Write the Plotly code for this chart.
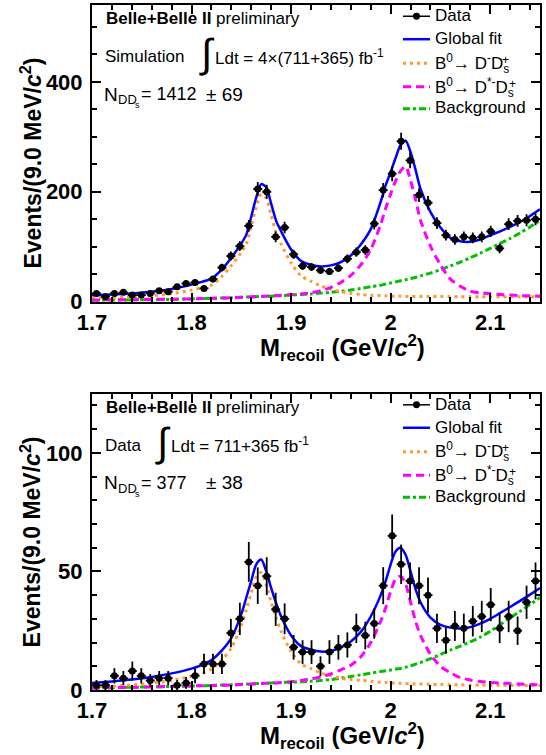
import plotly.graph_objects as go

# ---------------- data ----------------
BIN_WIDTH = 0.009
X_MIN, X_MAX = 1.7, 2.15
N_BINS = 50
bin_centers = [round(X_MIN + BIN_WIDTH * (i + 0.5), 5) for i in range(N_BINS)]

# Simulation (top panel)
sim_counts = [15, 9, 15, 17, 12, 12, 15, 20, 18, 27,
              33, 35, 24, 41, 62, 83, 101, 138, 205, 200,
              118, 135, 86, 65, 63, 57, 55, 61, 78, 90,
              94, 142, 203, 233, 292, 257, 194, 180, 143, 121,
              113, 118, 116, 118, 128, 97, 141, 147, 148, 150]
sim_errors = [3.5, 2.7, 3.5, 3.7, 3.1, 3.1, 3.5, 4.0, 3.8, 4.7,
              5.2, 5.3, 4.4, 5.8, 7.1, 8.2, 9.0, 10.6, 12.9, 12.7,
              9.8, 10.5, 8.3, 7.3, 7.1, 6.8, 6.7, 7.0, 7.9, 8.5,
              8.7, 10.7, 12.8, 13.7, 15.4, 14.4, 12.5, 12.1, 10.8, 9.9,
              9.6, 9.8, 9.7, 9.8, 10.2, 8.9, 10.7, 10.9, 10.9, 11.0]

# Data (bottom panel)
data_counts = [2, 2, 6, 5, 8, 6, 4, 5, 5, 2,
               3, 6, 11, 11, 11, 24, 30, 54, 44, 48,
               34, 30, 18, 16, 16, 10, 16, 18, 19, 26,
               23, 28, 44, 65, 53, 46, 44, 40, 26, 21,
               27, 26, 29, 31, 36, 26, 31, 25, 37, 46]
data_errors = [2.2, 2.2, 3.2, 3.0, 4.0, 3.2, 2.7, 3.0, 3.0, 2.2,
               2.5, 3.2, 4.3, 4.3, 4.3, 6.0, 6.8, 8.4, 7.7, 8.0,
               7.0, 6.5, 5.2, 5.0, 5.0, 4.2, 5.0, 5.2, 5.3, 6.2,
               5.8, 6.4, 7.8, 9.0, 8.3, 7.8, 7.8, 7.4, 6.2, 5.6,
               6.3, 6.2, 6.4, 6.6, 7.0, 6.2, 6.6, 6.0, 7.0, 7.8]

# Fit curves, sampled along M_recoil
curve_x = [1.70, 1.72, 1.74, 1.76, 1.78, 1.80, 1.81, 1.82, 1.83, 1.84, 1.85,
           1.855, 1.86, 1.865, 1.87, 1.875, 1.88, 1.885, 1.89, 1.90,
           1.91, 1.92, 1.93, 1.94, 1.95, 1.96, 1.97, 1.98, 1.99,
           1.995, 2.00, 2.005, 2.01, 2.015, 2.02, 2.025, 2.03,
           2.04, 2.05, 2.06, 2.07, 2.08, 2.09, 2.10, 2.11, 2.12, 2.13, 2.14, 2.15]

sim_fit_total = [12, 13, 15, 18, 23, 31, 36, 42, 58, 80, 106,
                 122, 155, 190, 214, 208, 178, 147, 128, 95,
                 74, 67, 64, 66, 72, 84, 104, 132, 182,
                 212, 236, 262, 285, 293, 272, 240, 205,
                 163, 135, 116, 110, 109, 113, 121, 128, 136, 145, 156, 168]
sim_fit_dds = [7, 7, 8.4, 10.5, 14.5, 21, 25, 30, 45, 66, 90,
               105, 138, 172, 195, 188, 157, 125, 105, 70,
               47, 37, 28.5, 23, 18, 15, 13, 11.5, 11,
               10.5, 10, 10, 10, 9.5, 9.5, 9.5, 9.5,
               9.5, 9.5, 9, 9, 9, 9, 9, 9, 9, 9, 9, 9]
sim_fit_dstds = [3, 3.3, 3.6, 4, 4.5, 5, 5.5, 6, 6.5, 7, 8,
                 8.3, 8.7, 9, 9.5, 10, 10.5, 11, 11.5, 12.5,
                 14, 16, 20, 26, 35, 48, 67, 95, 141,
                 170, 196, 220, 238, 246, 220, 186, 148,
                 101, 67, 41, 28, 19, 16, 14.5, 13, 12, 11, 10.5, 10]
sim_fit_bkg = [2, 2.5, 3, 3.5, 4, 5, 5.5, 6, 6.5, 7, 8,
               8.3, 8.6, 9, 9.3, 9.6, 10, 10.5, 11, 12,
               13, 14, 15.5, 17, 19, 21, 24, 27, 30,
               32, 34, 36, 38, 40, 42, 44, 47,
               52, 58, 65, 72, 80, 88, 97, 106, 115, 125, 136, 148]

data_fit_total = [2.9, 3.6, 4.4, 5.5, 7, 9, 10.5, 12.6, 16.5, 22, 32,
                  39, 46, 53, 55, 50, 43, 36.5, 31, 23,
                  18.5, 17, 16.2, 16.5, 18, 20.5, 24.5, 31, 40,
                  46, 53, 58.5, 60, 57, 50, 42.5, 37,
                  30.5, 27.5, 26.3, 25.9, 26.5, 28, 30, 32.5, 35, 37.6, 40.2, 43]
data_fit_dds = [1.3, 1.6, 2.1, 2.9, 4.0, 5.8, 6.9, 8.8, 12.4, 17.7, 27.3,
                34, 41, 47.7, 49.5, 44.3, 37, 30.4, 24.6, 16.2,
                11, 9, 7.2, 6, 5, 4.4, 4.1, 3.7, 3.3,
                3.2, 3.0, 2.9, 2.8, 2.7, 2.6, 2.5, 2.5,
                2.4, 2.3, 2.2, 2.2, 2.1, 2.1, 2.0, 2.0, 2.0, 1.9, 1.9, 1.9]
data_fit_dstds = [0.8, 1, 1.1, 1.3, 1.5, 1.7, 1.8, 1.9, 2.0, 2.1, 2.3,
                  2.4, 2.5, 2.6, 2.7, 2.8, 2.9, 3.0, 3.2, 3.5,
                  4.0, 4.6, 5.5, 6.8, 8.5, 10.4, 14, 20, 29,
                  34.7, 41.6, 46.8, 48, 44.7, 37, 29, 23,
                  15, 10, 7.3, 5.2, 4.2, 3.6, 3.2, 2.9, 2.7, 2.5, 2.3, 2.2]
data_fit_bkg = [0.8, 1.0, 1.2, 1.35, 1.5, 1.7, 1.8, 1.9, 2.1, 2.2, 2.4,
                2.5, 2.6, 2.7, 2.8, 2.9, 3.0, 3.1, 3.2, 3.3,
                3.5, 3.7, 4.0, 4.4, 5.0, 5.7, 6.4, 7.1, 7.8,
                8.1, 8.4, 8.8, 9.1, 9.6, 10.2, 10.9, 11.6,
                13.2, 15, 16.8, 18.5, 20.3, 22.3, 24.8, 27.6, 30.4, 33.2, 36, 39]

x_tick_vals = [1.7, 1.8, 1.9, 2.0, 2.1]
x_tick_text = ["1.7", "1.8", "1.9", "2", "2.1"]
sim_y_range = [0, 540]
sim_y_ticks = [0, 200, 400]
data_y_range = [0, 125]
data_y_ticks = [0, 50, 100]

legend_labels = ["Data", "Global fit",
                 "B<sup>0</sup>→ D<sup>-</sup>D<sub>s</sub>",
                 "B<sup>0</sup>→ D<sup>*-</sup>D<sub>s</sub>",
                 "Background"]

# ---------------- style ----------------
FONT = "Liberation Sans, Arial, Helvetica, sans-serif"
C_FIT = "#0000FF"
C_DDS = "#FF9933"
C_DSTDS = "#FF00FF"
C_BKG = "#00C000"
DASH_DDS = "3px,4px"
DASH_DSTDS = "8px,5px"
DASH_BKG = "7px,3px,3px,3px"

W, H = 546, 755
ML, MR, MT, MB = 92, 6, 3, 65
PW = W - ML - MR
PH = H - MT - MB


def px(x):
    return (x - ML) / PW


def py(y):
    return (MT + PH - y) / PH


TOP_FRAME = 3.0
TOP_BOTTOM = 300.5
BOT_FRAME = 392.7
BOT_BOTTOM = 690.0

fig = go.Figure()


def add_panel(xa, ya, counts, errors, tot, dds, dstds, bkg):
    common = dict(x=curve_x, xaxis=xa, yaxis=ya, mode="lines", showlegend=False,
                  hoverinfo="skip", line_shape="spline")
    fig.add_trace(go.Scatter(y=bkg, line=dict(color=C_BKG, width=3, dash=DASH_BKG, smoothing=0.8), **common))
    fig.add_trace(go.Scatter(y=dds, line=dict(color=C_DDS, width=3, dash=DASH_DDS, smoothing=0.8), **common))
    fig.add_trace(go.Scatter(y=dstds, line=dict(color=C_DSTDS, width=3, dash=DASH_DSTDS, smoothing=0.8), **common))
    fig.add_trace(go.Scatter(y=tot, line=dict(color=C_FIT, width=2.5, smoothing=0.8), **common))
    fig.add_trace(go.Scatter(
        x=bin_centers, y=counts, xaxis=xa, yaxis=ya, mode="markers", showlegend=False,
        marker=dict(color="black", size=7),
        error_y=dict(type="data", array=errors, color="black", thickness=1.8, width=0),
        error_x=dict(type="constant", value=BIN_WIDTH / 2, color="black", thickness=1.8, width=0),
    ))


add_panel("x", "y", sim_counts, sim_errors, sim_fit_total, sim_fit_dds, sim_fit_dstds, sim_fit_bkg)
add_panel("x2", "y2", data_counts, data_errors, data_fit_total, data_fit_dds, data_fit_dstds, data_fit_bkg)

axis_common = dict(showline=True, linecolor="black", linewidth=2, mirror="allticks",
                   ticks="inside", ticklen=9, tickwidth=1.5, tickcolor="black",
                   showgrid=False, zeroline=False,
                   tickfont=dict(family=FONT, size=22, color="black", weight="bold"))

top_dom = [py(TOP_BOTTOM), 1.0]
bot_dom = [0.0, py(BOT_FRAME)]

fig.update_layout(
    width=W, height=H,
    margin=dict(l=ML, r=MR, t=MT, b=MB),
    paper_bgcolor="white", plot_bgcolor="white",
    showlegend=False,
    xaxis=dict(domain=[0, 1], anchor="y", range=[X_MIN, X_MAX], tickmode="array",
               tickvals=x_tick_vals, ticktext=x_tick_text,
               minor=dict(dtick=0.02, tick0=1.7, ticks="inside", ticklen=5, tickwidth=1.5, tickcolor="black"),
               **axis_common),
    yaxis=dict(domain=top_dom, anchor="x", range=sim_y_range, tickmode="array", tickvals=sim_y_ticks,
               ticklabelstandoff=3,
               minor=dict(dtick=50, tick0=0, ticks="inside", ticklen=5, tickwidth=1.5, tickcolor="black"),
               **axis_common),
    xaxis2=dict(domain=[0, 1], anchor="y2", range=[X_MIN, X_MAX], tickmode="array",
                tickvals=x_tick_vals, ticktext=x_tick_text,
                minor=dict(dtick=0.02, tick0=1.7, ticks="inside", ticklen=5, tickwidth=1.5, tickcolor="black"),
                **axis_common),
    yaxis2=dict(domain=bot_dom, anchor="x2", range=data_y_range, tickmode="array", tickvals=data_y_ticks,
                ticklabelstandoff=3,
                minor=dict(dtick=10, tick0=0, ticks="inside", ticklen=5, tickwidth=1.5, tickcolor="black"),
                **axis_common),
)

annotations = []
shapes = []


def txt(x, y, text, size=17, xanchor="left", yanchor="middle", **kw):
    annotations.append(dict(x=px(x), y=py(y), xref="paper", yref="paper", text=text,
                            showarrow=False, xanchor=xanchor, yanchor=yanchor,
                            font=dict(family=FONT, size=size, color="black"), **kw))


def panel_text(top, label, int_x, lumi_x, lumi, n_val, n_err):
    txt(104, top + 14, "<b>Belle+Belle II</b> preliminary")
    txt(103, top + 52, label)
    txt(int_x, top + 49, "∫", size=40, xanchor="center")
    txt(lumi_x, top + 52, lumi)
    txt(102, top + 89.5, "N", size=19)
    txt(116, top + 95, "DD", size=13)
    txt(133, top + 100.5, "s", size=9)
    txt(139, top + 89.5, "= " + n_val, size=18)
    txt(204, top + 89.5, "± " + n_err, size=19)
    # legend
    rows = [10.6, 34, 58.2, 82.4, 103]
    for lab, r in zip(legend_labels, rows):
        txt(433, top + r, lab)
    # legend samples
    shapes.append(dict(type="line", xref="paper", yref="paper", x0=px(403), x1=px(430),
                       y0=py(top + 11.3), y1=py(top + 11.3), line=dict(color="black", width=1.5)))
    shapes.append(dict(type="circle", xref="paper", yref="paper", x0=px(413), x1=px(420),
                       y0=py(top + 14.8), y1=py(top + 7.8), fillcolor="black", line=dict(color="black", width=0)))
    shapes.append(dict(type="line", xref="paper", yref="paper", x0=px(403), x1=px(430),
                       y0=py(top + 34.3), y1=py(top + 34.3), line=dict(color=C_FIT, width=2.5)))
    shapes.append(dict(type="line", xref="paper", yref="paper", x0=px(403), x1=px(430),
                       y0=py(top + 58.3), y1=py(top + 58.3), line=dict(color=C_DDS, width=3, dash=DASH_DDS)))
    shapes.append(dict(type="line", xref="paper", yref="paper", x0=px(403), x1=px(430),
                       y0=py(top + 82), y1=py(top + 82), line=dict(color=C_DSTDS, width=3, dash=DASH_DSTDS)))
    shapes.append(dict(type="line", xref="paper", yref="paper", x0=px(403), x1=px(430),
                       y0=py(top + 104), y1=py(top + 104), line=dict(color=C_BKG, width=3, dash=DASH_BKG)))
    # D_s superscript plus signs
    txt(500, top + 55, "+", size=12)
    txt(507, top + 79, "+", size=12)


panel_text(TOP_FRAME, "Simulation", 207, 213, "Ldt = 4×(711+365) fb<sup>-1</sup>", "1412", "69")
panel_text(BOT_FRAME, "Data", 162.5, 169, "Ldt = 711+365 fb<sup>-1</sup>", "377", "38")

ytitle = "<b>Events/(9.0 MeV/<i>c</i><sup>2</sup>)</b>"
xtitle = "<b>M<sub>recoil</sub> (GeV/<i>c</i><sup>2</sup>)</b>"
txt(31, 162, ytitle, size=23, xanchor="center", textangle=-90)
txt(31, 542, ytitle, size=23, xanchor="center", textangle=-90)
txt(342, 347, xtitle, size=24, xanchor="center")
txt(342, 736, xtitle, size=24, xanchor="center")

fig.update_layout(annotations=annotations, shapes=shapes)
fig.write_html("out.html", config={"displayModeBar": False},
               post_script="document.body.style.margin='0px';document.body.style.overflow='hidden';")
